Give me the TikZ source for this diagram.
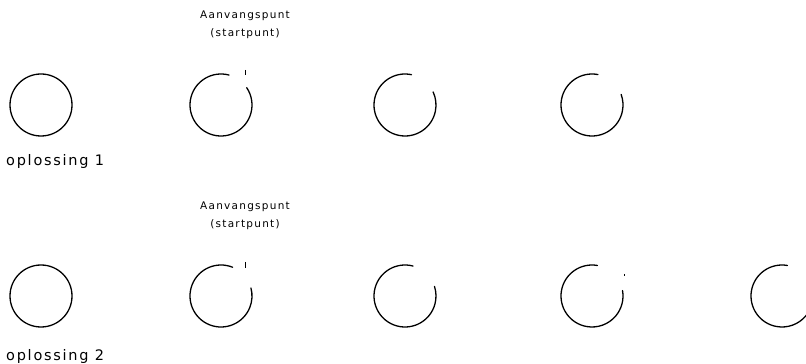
\documentclass[tikz,border=0pt]{standalone}
\usepackage{fontspec}
\setmainfont{DejaVu Sans}
\newfontfamily\widefont[LetterSpace=12]{DejaVu Sans}
\usetikzlibrary{positioning, calc}
\tikzset{
  ring/.style={line width=1.3pt, line cap=round},
  notch/.style={line width=1pt},
  tag/.style={font=\widefont\fontsize{10.5}{12}\selectfont, inner sep=0pt},
  sol/.style={font=\widefont\fontsize{14.5}{16}\selectfont, anchor=west, inner sep=0pt}
}

\begin{document}
\begin{tikzpicture}[x=1pt, y=1pt]
    \useasboundingbox (0,0) rectangle (806,364);
    % oplossing 1
    \foreach \cx/\a/\b [count=\i] in {41/0/360, 221/75/394, 405/78/385, 592/79/380} {
      \coordinate (ca\i) at (\cx,259);
      \draw[ring] (ca\i) ++(\a:31) arc[start angle=\a, end angle=\b, radius=31];
    }
    \draw[notch] ($(ca2)+(24,35)$) -- ($(ca2)+(24,30)$);
    \node[tag] (starta) at (245,348) {Aanvangspunt};
    \node[tag, below=7pt of starta] (startb) {(startpunt)};
    \node[sol] (sola) at (6,202) {oplossing 1};
    % oplossing 2
    \foreach \cx/\a/\b [count=\i] in {41/0/360, 221/68/375, 405/75/378, 592/80/370, 782/80/375} {
      \coordinate (cb\i) at (\cx,68);
      \draw[ring] (cb\i) ++(\a:31) arc[start angle=\a, end angle=\b, radius=31];
    }
    \draw[notch] ($(cb2)+(24,34)$) -- ($(cb2)+(24,28)$);
    \draw[notch] ($(cb4)+(32,22)$) -- ($(cb4)+(32,20)$);
    \node[tag] (startc) at (245,157) {Aanvangspunt};
    \node[tag, below=7pt of startc] (startd) {(startpunt)};
    \node[sol] (solb) at (6,7) {oplossing 2};
\end{tikzpicture}
\end{document}
